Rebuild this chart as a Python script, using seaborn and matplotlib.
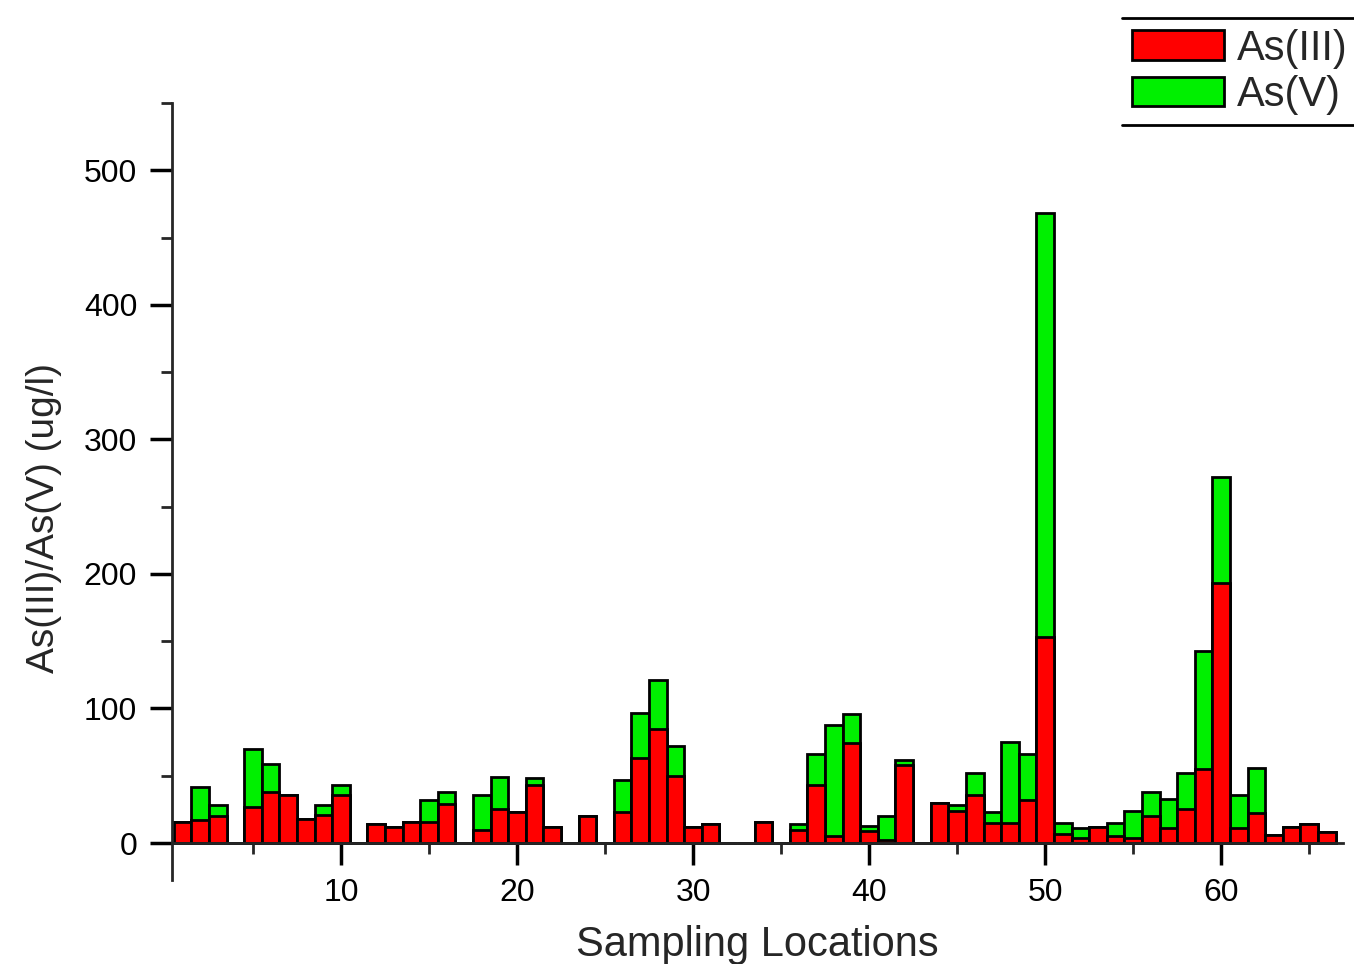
import numpy as np
import pandas as pd
import matplotlib
matplotlib.use('Agg')
import matplotlib.pyplot as plt
import seaborn as sns
from matplotlib.patches import Patch
from matplotlib.lines import Line2D
from matplotlib.ticker import MultipleLocator

sns.set_style('ticks')
plt.rcParams['font.family'] = ['Liberation Sans', 'DejaVu Sans']

# Sampling locations 1..66 (ug/l)
locations = list(range(1, 67))
as3 = [16, 17, 20, 0, 27, 38, 36, 18, 21, 36,
       0, 14, 12, 16, 16, 29, 0, 10, 25, 23,
       43, 12, 0, 20, 0, 23, 63, 85, 50, 12,
       14, 0, 0, 16, 0, 10, 43, 5, 74, 9,
       2, 58, 0, 30, 24, 36, 15, 15, 32, 153,
       7, 4, 12, 5, 4, 20, 11, 25, 55, 193,
       11, 22, 6, 12, 14, 8]
as5 = [0, 25, 8, 0, 43, 21, 0, 0, 7, 7,
       0, 0, 0, 0, 16, 9, 0, 26, 24, 0,
       5, 0, 0, 0, 0, 24, 34, 36, 22, 0,
       0, 0, 0, 0, 0, 4, 23, 83, 22, 4,
       18, 4, 0, 0, 4, 16, 8, 60, 34, 315,
       8, 7, 0, 10, 20, 18, 22, 27, 88, 79,
       25, 34, 0, 0, 0, 0]

df = pd.DataFrame({'loc': locations, 'as3': as3, 'as5': as5})
df['total'] = df['as3'] + df['as5']

red = '#ff0000'
green = '#00f000'

fig = plt.figure(figsize=(13.54, 9.64), dpi=100)
ax = fig.add_axes([0.127, 0.0871, 0.865, 0.806])

# stacked look: total in green, As(III) drawn over it in red
sns.barplot(data=df, x='loc', y='total', native_scale=True, width=1.0,
            color=green, saturation=1, edgecolor='black', linewidth=2,
            errorbar=None, ax=ax)
sns.barplot(data=df, x='loc', y='as3', native_scale=True, width=1.0,
            color=red, saturation=1, edgecolor='black', linewidth=2,
            errorbar=None, ax=ax)

ax.set_xlim(0.4, 66.93)
ax.set_ylim(-27.5, 550)
ax.spines['right'].set_visible(False)
ax.spines['top'].set_visible(False)
ax.spines['bottom'].set_position(('data', 0))
ax.spines['left'].set_linewidth(2)
ax.spines['bottom'].set_linewidth(2)

ax.xaxis.set_minor_locator(MultipleLocator(5))
ax.yaxis.set_minor_locator(MultipleLocator(50))
ax.set_yticks([0, 100, 200, 300, 400, 500])
ax.set_xticks([10, 20, 30, 40, 50, 60])
ax.tick_params(axis='both', which='major', length=16, width=2.5,
               labelsize=23, pad=9, direction='out', colors='black')
ax.tick_params(axis='both', which='minor', length=8, width=2, direction='out')

ax.set_xlabel('Sampling Locations', fontsize=30)
ax.set_ylabel('As(III)/As(V) (ug/l)', fontsize=28)
ax.xaxis.set_label_coords(0.5, -0.058)
ax.yaxis.set_label_coords(-0.094, 0.466)

handles = [Patch(facecolor=red, edgecolor='black', linewidth=2, label='As(III)'),
           Patch(facecolor=green, edgecolor='black', linewidth=2, label='As(V)')]
leg = fig.legend(handles=handles, loc='upper left', bbox_to_anchor=(0.8287, 0.981),
                 fontsize=30, frameon=False, handlelength=2.2,
                 handleheight=0.72, handletextpad=0.3, labelspacing=0.15,
                 borderpad=0.25, borderaxespad=0)

# legend box shows only its top and bottom rules
fig.canvas.draw()
bb = leg.get_window_extent().transformed(fig.transFigure.inverted())
for yy in (bb.y0, bb.y1):
    fig.add_artist(Line2D([bb.x0, 1.0], [yy, yy], color='black', lw=2,
                          transform=fig.transFigure))

fig.savefig('out.png', dpi=100)
